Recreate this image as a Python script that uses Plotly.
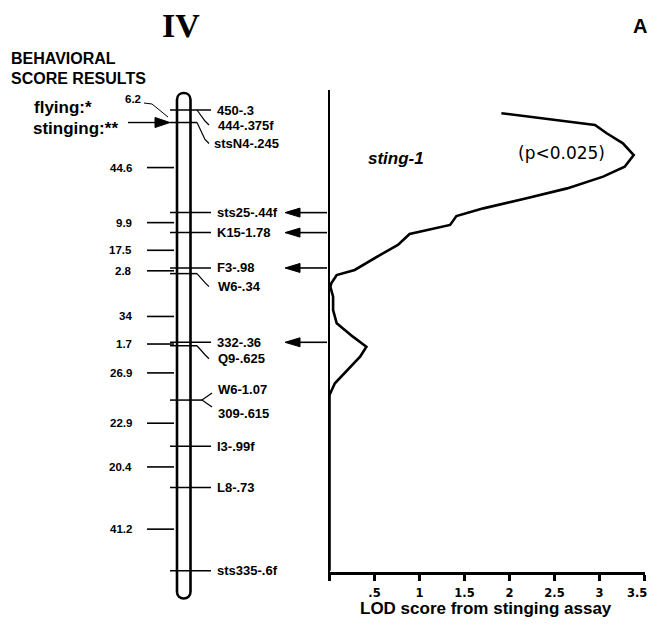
import plotly.graph_objects as go

# ---------------- data ----------------
# map distances (cM) between successive loci on linkage group IV
interval_cM = [6.2, 44.6, 9.9, 17.5, 2.8, 34, 1.7, 26.9, 22.9, 20.4, 41.2]
interval_labels = ["6.2", "44.6", "9.9", "17.5", "2.8", "34", "1.7", "26.9", "22.9", "20.4", "41.2"]
# loci in map order (one row per map position)
loci = [["450-.3", "444-.375f"], ["stsN4-.245"], ["sts25-.44f"], ["K15-1.78"], ["F3-.98"],
        ["W6-.34"], ["332-.36"], ["Q9-.625"], ["W6-1.07", "309-.615"], ["I3-.99f"],
        ["L8-.73"], ["sts335-.6f"]]
arrowed_loci = ["sts25-.44f", "K15-1.78", "F3-.98", "332-.36"]
behavior_labels = ["flying:*", "stinging:**"]

# LOD profile for sting-1 (position in cM, LOD score)
lod_pos_cM = [1.6, 7.4, 11.5, 16.5, 22.3, 28.1, 33.0, 38.8, 43.7, 48.7, 52.5, 56.9, 61.4,
              66.8, 71.8, 79.2, 81.7, 85.8, 87.5, 92.4, 99.0, 105.6, 112.2, 117.2, 122.1,
              135.3, 141.1, 228.1]
lod_score = [1.91, 2.95, 3.08, 3.26, 3.38, 3.28, 3.04, 2.64, 2.19, 1.71, 1.41, 1.34, 0.89,
             0.76, 0.56, 0.28, 0.08, 0.02, 0.01, 0.04, 0.04, 0.08, 0.26, 0.41, 0.34,
             0.06, 0.0, 0.0]
x_tick_vals = [0, 0.5, 1, 1.5, 2, 2.5, 3, 3.5]
x_tick_text = ["", ".5", "1", "1.5", "2", "2.5", "3", "3.5"]

# ---------------- layout helpers ----------------
W, H = 653, 628
Y0_PX, PX_PER_CM = 110.0, 2.02
X0_PX, X_PER_LOD = 329.5, 90.0


def cm(ypx):
    return (ypx - Y0_PX) / PX_PER_CM


def dpx(px):
    return px / PX_PER_CM


# cumulative map positions
pos = [0.0]
for d in interval_cM:
    pos.append(round(pos[-1] + d, 2))

SANS = "Liberation Sans, Arial, sans-serif"
shapes = []
ann = []


def line(x0, y0, x1, y1, w=1.5):
    shapes.append(dict(type="line", xref="x", yref="y", x0=x0, y0=y0, x1=x1, y1=y1,
                       line=dict(color="black", width=w), layer="above"))


def poly(pts, w=1.2, fill=None):
    p = "M " + " L ".join(f"{x},{y}" for x, y in pts)
    d = dict(type="path", xref="x", yref="y", path=p + (" Z" if fill else ""),
             line=dict(color="black", width=w), layer="above")
    if fill:
        d["fillcolor"] = fill
    shapes.append(d)


def text(x, y, s, size, anchor="left", bold=True, italic=False, family=SANS, color="black",
         xref="x", yref="y"):
    t = f"<b>{s}</b>" if bold else s
    if italic:
        t = f"<i>{t}</i>"
    ann.append(dict(x=x, y=y, xref=xref, yref=yref, text=t, showarrow=False,
                    xanchor=anchor, yanchor="middle",
                    font=dict(family=family, size=size, color=color)))


# chromosome outline
xl, xr = 177.0, 190.5
r = 6.75
yt = cm(93 + r)
yb = cm(598.5 - r)
k = 4 / 3 * dpx(r)
shapes.append(dict(type="path", xref="x", yref="y", layer="above",
                   path=(f"M {xl},{yt} L {xl},{yb} C {xl},{yb + k} {xr},{yb + k} {xr},{yb} "
                         f"L {xr},{yt} C {xr},{yt - k} {xl},{yt - k} {xl},{yt} Z"),
                   line=dict(color="black", width=2.6)))

# loci lines and labels
label_dy_px = {"444-.375f": 15, "stsN4-.245": 21, "W6-.34": 13, "Q9-.625": 13,
               "W6-1.07": -11, "309-.615": 13}
for p, names in zip(pos, loci):
    if len(names) == 2 and all(n in label_dy_px for n in names):
        # branched pair
        line(170, p, 202, p)
        poly([(212, p - dpx(7)), (202, p), (212, p + dpx(7))])
        for n in names:
            text(216, p + dpx(label_dy_px[n]), n, 13)
        continue
    for n in names:
        dy = label_dy_px.get(n, 0)
        if dy == 0:
            line(170, p, 211, p)
            text(215, p, n, 13)
        else:
            if n == names[0]:
                line(170, p, 197, p)
            poly([(197, p), (205, p + dpx(dy - 4)), (209, p + dpx(dy))])
            text(212 if dy > 18 else 216, p + dpx(dy), n, 13)

# interval distances
interval_dy_px = {"34": 8.5}
for i, (d, lab) in enumerate(zip(interval_cM, interval_labels)):
    if i == 0:
        ym = cm(99)
        text(143, ym, lab, 11.5, anchor="right")
        poly([(144, cm(103)), (152, cm(104)), (168, cm(117))], w=1.0)
        continue
    ym = (pos[i] + pos[i + 1]) / 2 + dpx(interval_dy_px.get(lab, 0))
    line(147, ym, 174, ym, w=1.6)
    text(134, ym, lab, 11.5, anchor="right")

# behavioural score labels
text(9, cm(58.5), "BEHAVIORAL", 16)
text(9, cm(78.5), "SCORE RESULTS", 16)
text(32, cm(107), behavior_labels[0], 17)
text(31, cm(128), behavior_labels[1], 17)
ya = pos[1]
line(128, ya, 157, ya, w=1.4)
poly([(170, ya), (155, ya - dpx(5)), (155, ya + dpx(5))], w=1, fill="black")

# arrows from LOD axis toward loci
for p, names in zip(pos, loci):
    for n in names:
        if n in arrowed_loci:
            line(298, p, 327, p, w=1.6)
            poly([(285, p), (300, p - dpx(4.5)), (300, p + dpx(4.5))], w=1, fill="black")

# titles
text(181, cm(25), "IV", 34, anchor="center", family="Liberation Serif, Times New Roman, serif")
text(640, cm(26), "A", 20, anchor="center")
text(396, cm(158), "sting-1", 17, anchor="center", italic=True)
text(561, cm(153), "(p&lt;0.025)", 17, anchor="center", bold=False,
     family="DejaVu Sans, sans-serif")
text(486, cm(608), "LOD score from stinging assay", 17, anchor="center")

# the last tick label sits at the page edge; place it as text inside the page
tick_font = dict(family="DejaVu Sans, sans-serif", size=11.5, color="black", weight="bold")
axis_ticktext = x_tick_text[:-1] + [""]
ann.append(dict(x=x_tick_vals[-1], y=cm(593), xref="x2", yref="y", text=x_tick_text[-1],
                showarrow=False, xanchor="right", yanchor="middle", xshift=4,
                font=tick_font))

fig = go.Figure()
# invisible anchor trace for the map panel
fig.add_trace(go.Scatter(x=[0, W], y=[cm(0), cm(H)], mode="markers",
                         marker=dict(opacity=0), hoverinfo="skip", showlegend=False,
                         xaxis="x", yaxis="y"))
fig.add_trace(go.Scatter(x=lod_score, y=lod_pos_cM, mode="lines",
                         line=dict(color="black", width=2.6), showlegend=False,
                         xaxis="x2", yaxis="y2", cliponaxis=False))

fig.update_layout(
    width=W, height=H,
    margin=dict(l=0, r=0, t=0, b=0),
    paper_bgcolor="white", plot_bgcolor="rgba(0,0,0,0)",
    showlegend=False,
    xaxis=dict(domain=[0, 1], range=[0, W], visible=False, fixedrange=True),
    yaxis=dict(domain=[0, 1], range=[cm(H), cm(0)], visible=False, fixedrange=True),
    xaxis2=dict(domain=[X0_PX / W, (X0_PX + 3.5 * X_PER_LOD) / W], range=[0, 3.5],
                anchor="y2", showline=True, linewidth=2.5, linecolor="black",
                ticks="outside", ticklen=6, tickwidth=2.5, tickcolor="black",
                tickvals=x_tick_vals, ticktext=axis_ticktext, ticklabelstandoff=2,
                tickfont=tick_font, showgrid=False, zeroline=False),
    yaxis2=dict(domain=[1 - 572 / H, 1 - 90 / H], range=[cm(572), cm(90)],
                anchor="x2", showline=True, linewidth=1.5, linecolor="black",
                showticklabels=False, ticks="", showgrid=False, zeroline=False),
    shapes=shapes,
    annotations=ann,
)

fig.write_html("out.html", config={"displayModeBar": False},
               post_script="document.body.style.margin='0px';"
                           "document.body.style.overflow='hidden';"
                           "document.documentElement.style.overflow='hidden';")
